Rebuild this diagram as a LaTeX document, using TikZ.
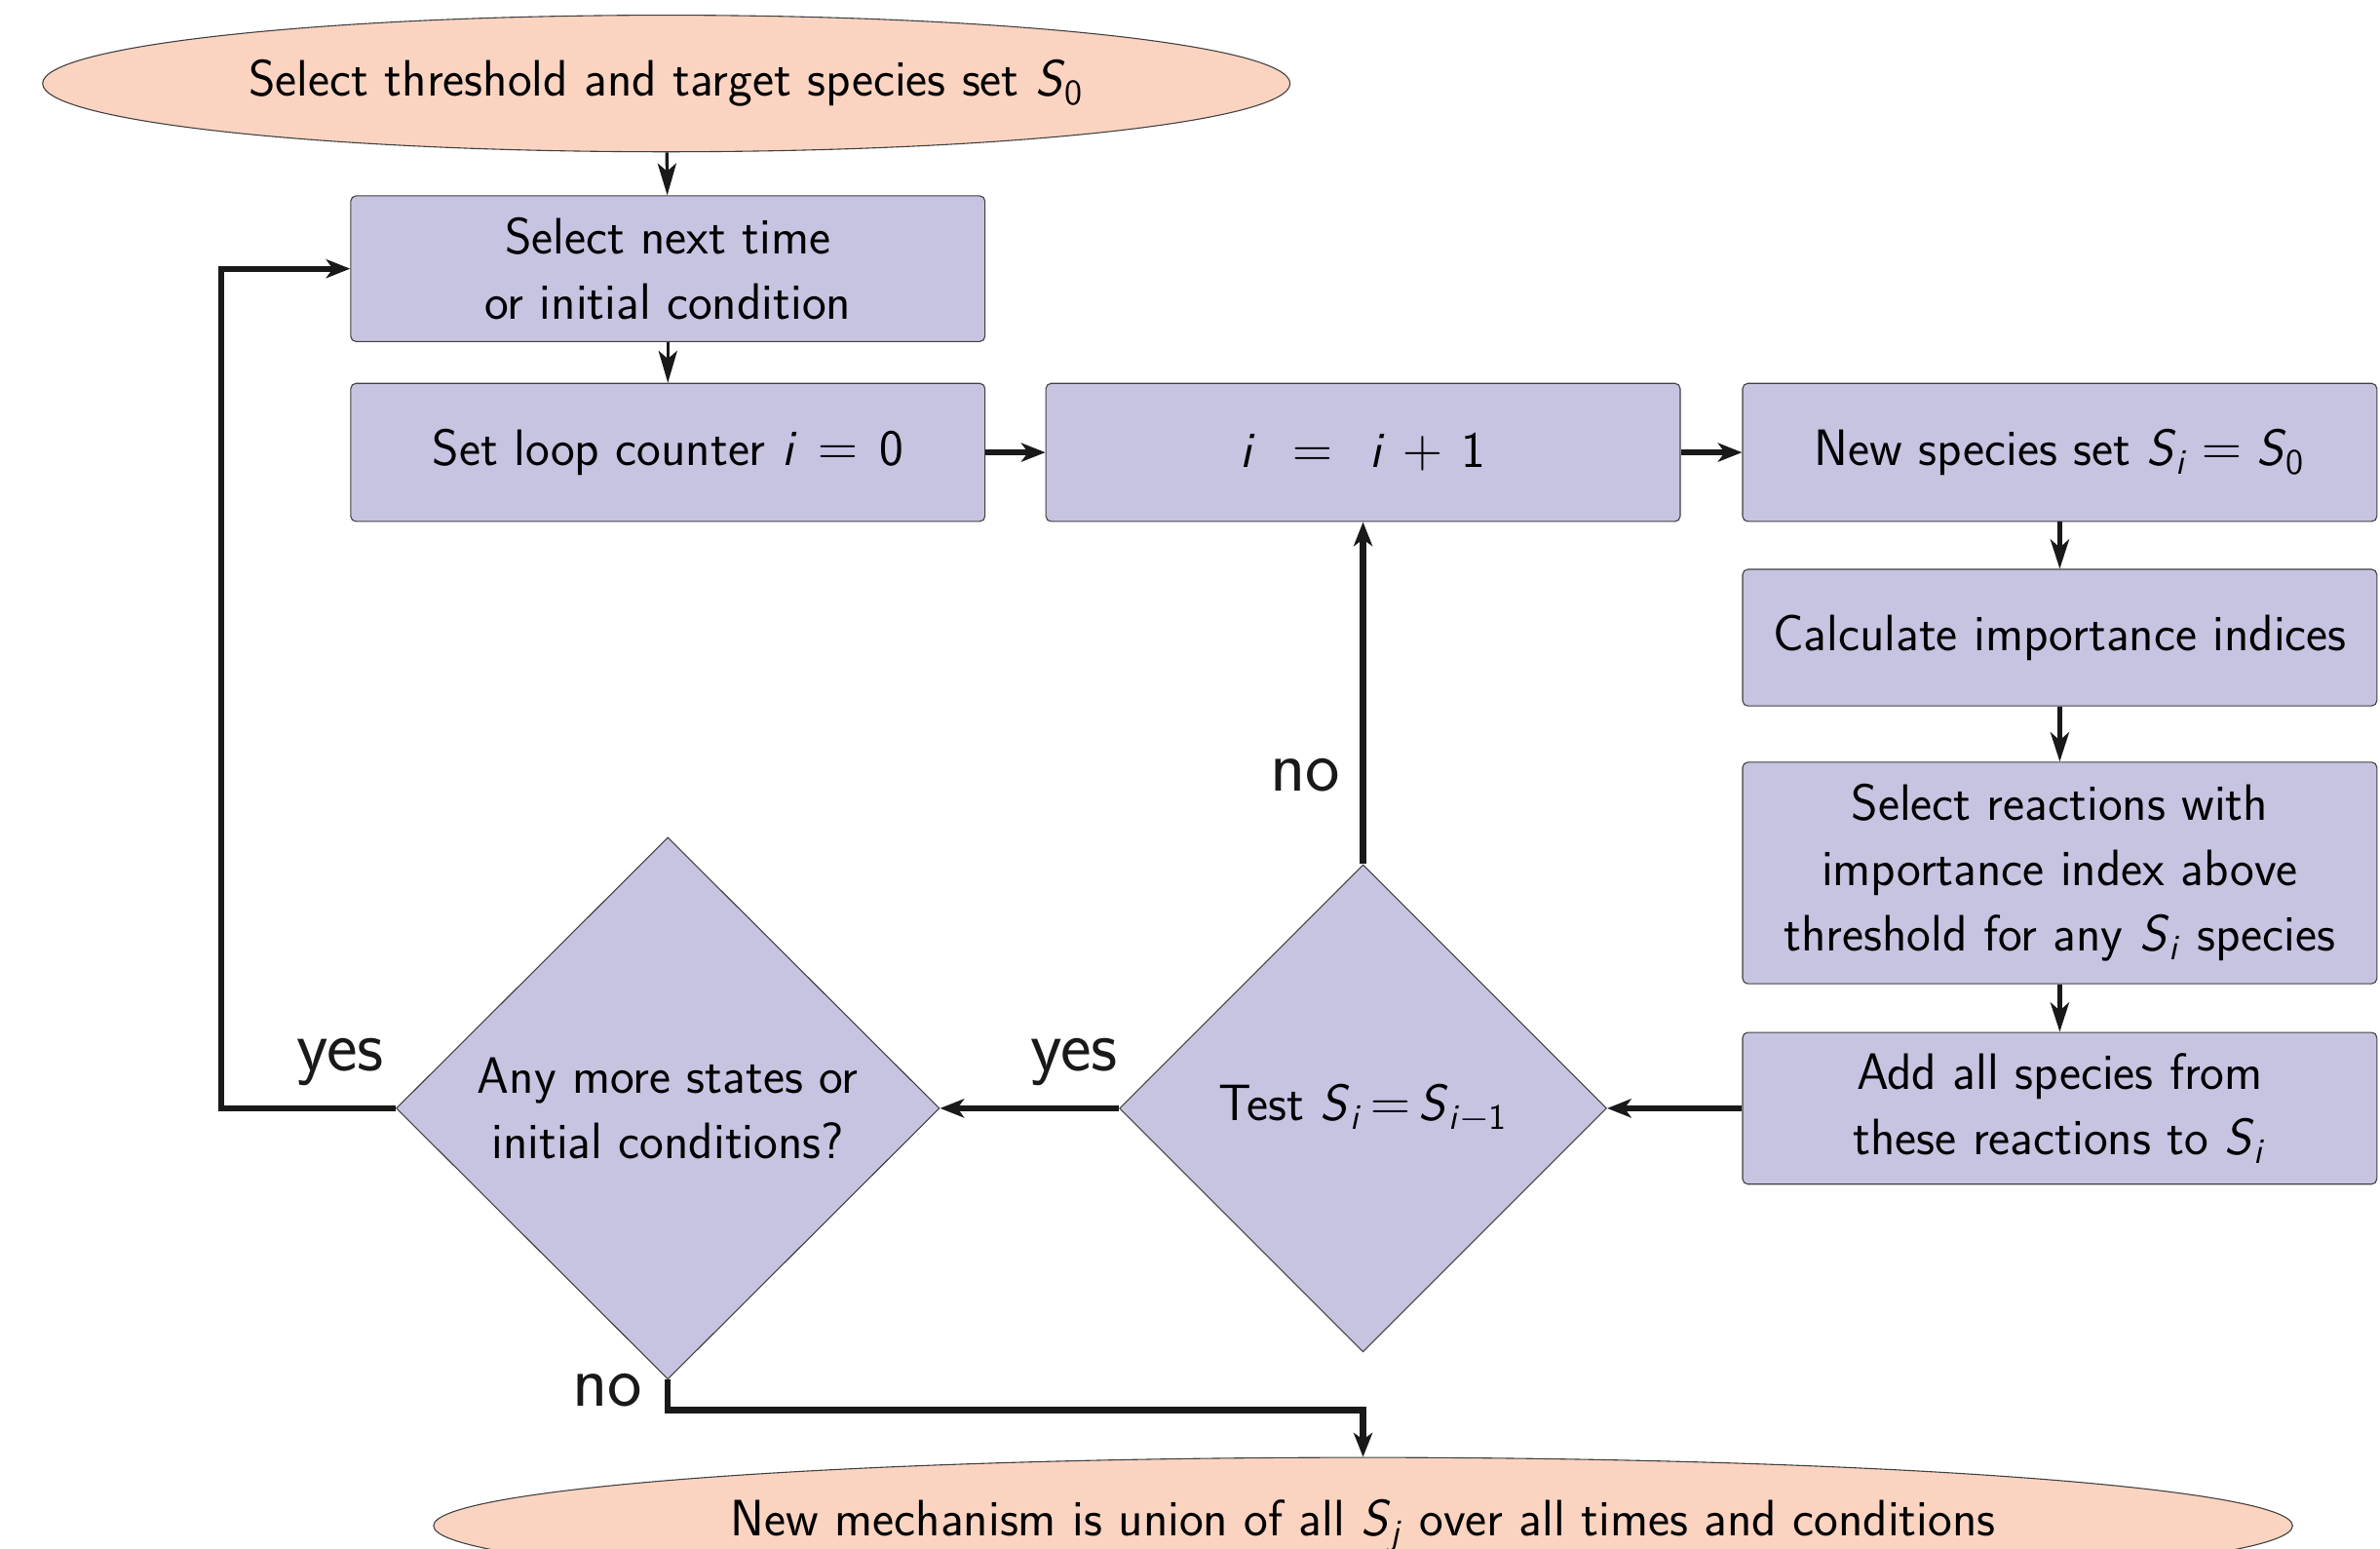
\documentclass[tikz,border=0pt]{standalone}
\usepackage{amsmath,amssymb}
\usepackage{tikz}
\usetikzlibrary{shapes.geometric}
\usetikzlibrary{arrows.meta}

\definecolor{boxfill}{RGB}{199,196,226}
\definecolor{capfill}{RGB}{251,212,193}
\newcommand{\Sset}[1]{\textit{S}\textsubscript{#1}}

\begin{document}
\begin{tikzpicture}[x=0.02cm, y=-0.02cm,
  font=\sffamily\fontsize{19.2}{24.5}\selectfont,
  stepbox/.style={draw=black!75, fill=boxfill, rounded corners=2pt, minimum width=8.36cm, minimum height=1.82cm, align=center, inner sep=0pt},
  endcap/.style={ellipse, draw=black!75, fill=capfill, minimum height=1.8cm, inner sep=0pt},
  decide/.style={diamond, draw=black!75, fill=boxfill, inner sep=0pt, align=center},
  thinflow/.style={-{Stealth[length=12pt, width=7pt, inset=3pt]}, line width=1.2pt, black!90},
  midflow/.style={-{Stealth[length=11pt, width=7pt, inset=3pt]}, line width=1.7pt, black!90},
  thickflow/.style={-{Stealth[length=9pt, width=7pt, inset=2.5pt]}, line width=2.3pt, black!90},
  answer/.style={font=\sffamily\fontsize{27.5}{30}\selectfont}]
\useasboundingbox (0,0) rectangle (1568,1020);

% start and end
\node[endcap, minimum width=16.44cm] (start) at (439,55) {Select threshold and target species set \Sset{0}};
\node[endcap, minimum width=24.5cm] (finish) at (898,1005) {New mechanism is union of all \Sset{\textit{j}} over all times and conditions};

% boxes
\node[stepbox, minimum height=1.92cm] (pick) at (440,177) {Select next time\\or initial condition};
\node[stepbox] (reset) at (440,298) {Set loop counter \textit{i}\hspace{8pt}$=$\hspace{8pt}0};
\node[stepbox] (incr) at (898,298) {\textit{i}\hspace{14pt}$=$\hspace{14pt}\textit{i}\hspace{7pt}$+$\hspace{7pt}1};
\node[stepbox] (newset) at (1357,298) {New species set \Sset{\textit{i}}\;$=$\;\Sset{0}};
\node[stepbox, minimum height=1.8cm] (calc) at (1357,420) {Calculate importance indices};
\node[stepbox, minimum height=2.92cm] (choose) at (1357,575) {Select reactions with\\importance index above\\threshold for any \Sset{\textit{i}} species};
\node[stepbox, minimum height=2.0cm] (addsp) at (1357,730) {Add all species from\\these reactions to \Sset{\textit{i}}};

% decisions
\node[decide, minimum width=6.42cm, minimum height=6.42cm] (test) at (898,730) {Test \Sset{\textit{i}}\,$=$\,\Sset{\textit{i}$-$1}};
\node[decide, minimum width=7.16cm, minimum height=7.14cm] (more) at (440,730) {Any more states or\\initial conditions?};

% connectors
\draw[thinflow] (start) -- (pick);
\draw[thinflow] (pick) -- (reset);
\draw[thickflow] (reset) -- (incr);
\draw[thickflow] (incr) -- (newset);
\draw[midflow] (newset) -- (calc);
\draw[midflow] (calc) -- (choose);
\draw[midflow] (choose) -- (addsp);
\draw[thickflow] (addsp) -- (test);
\draw[thickflow] (test) -- node[answer, above, pos=0.25, yshift=4pt] {yes} (more);
\draw[thickflow] (test) -- node[answer, left, pos=0.26, xshift=-4pt] {no} (incr);
\draw[thickflow] (more.west) node[answer, above left, yshift=4pt] {yes} -- ++(-115,0) |- (pick.west);
\draw[thickflow] (more.south) node[answer, left, xshift=-5pt, yshift=-4pt] {no} -- ++(0,20) -| (finish.north);
\end{tikzpicture}
\end{document}
